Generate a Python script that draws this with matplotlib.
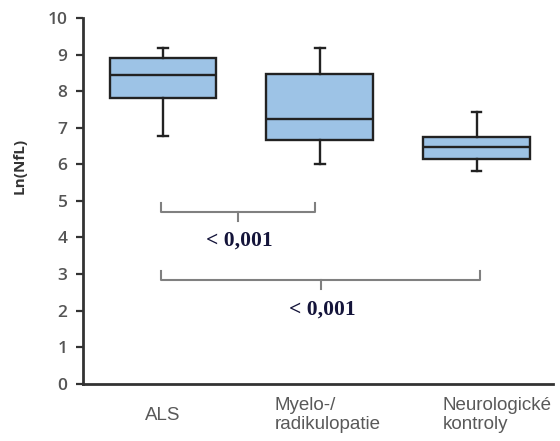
import matplotlib
matplotlib.use("Agg")
import matplotlib.pyplot as plt
from matplotlib.transforms import blended_transform_factory, offset_copy

# skupiny a hodnoty boxplotu (Ln NfL)
groups = ["ALS", "Myelo-/\nradikulopatie", "Neurologické\nkontroly"]
q1 = [7.82, 6.67, 6.14]
median = [8.45, 7.25, 6.48]
q3 = [8.92, 8.48, 6.75]
whisker_low = [6.78, 6.02, 5.82]
whisker_high = [9.19, 9.19, 7.42]

# porovnani skupin (zavorky s p-hodnotou)
bracket_from = [1, 1]
bracket_to = [2, 3]
p_labels = ["< 0,001", "< 0,001"]

positions = [1, 2, 3]
stats = []
for i, name in enumerate(groups):
    stats.append(dict(label=name, q1=q1[i], med=median[i], q3=q3[i],
                      whislo=whisker_low[i], whishi=whisker_high[i], fliers=[]))

fig = plt.figure(figsize=(5.6, 4.41), dpi=100)
ax = fig.add_axes([0.148, 0.130, 0.839, 0.829])

edge = "#222222"
ax.bxp(stats, positions=positions, widths=0.68, patch_artist=True,
       showfliers=False, capwidths=0.06,
       boxprops=dict(facecolor="#9dc3e6", edgecolor=edge, linewidth=1.7),
       medianprops=dict(color=edge, linewidth=1.7),
       whiskerprops=dict(color=edge, linewidth=1.7),
       capprops=dict(color=edge, linewidth=1.7))

ax.set_xlim(0.49, 3.484)
ax.set_ylim(0, 10)
ax.set_yticks(range(0, 11))
ax.set_xticks([])

for s in ["top", "right"]:
    ax.spines[s].set_visible(False)
for s in ["left", "bottom"]:
    ax.spines[s].set_color("#333333")
    ax.spines[s].set_linewidth(2.0)

ax.tick_params(axis="y", length=5, width=1.6, color="#333333", pad=6,
               labelsize=12.5, labelcolor="#555555")
for lab in ax.get_yticklabels():
    lab.set_family("Open Sans")
    lab.set_fontweight("semibold")

ax.set_ylabel("Ln(NfL)", family="Open Sans", fontweight="bold", fontsize=11,
              color="#333333")
ax.yaxis.set_label_coords(-0.12, 0.595)

# popisky skupin pod osou x
trans = blended_transform_factory(ax.transData, ax.transAxes)
shift = [0, 8, 20]
for x, name, dx in zip(positions, groups, shift):
    t = offset_copy(trans, fig=fig, x=dx * 0.72, y=0, units="points")
    ax.text(x, -0.086, name, transform=t, ha="center", va="center",
            multialignment="left", family="Liberation Sans", fontsize=13.5,
            color="#595959", linespacing=1.1, clip_on=False)

# zavorky s p-hodnotami
levels = [4.70, 2.83]
for a, b, y, txt in zip(bracket_from, bracket_to, levels, p_labels):
    x0, x1 = a - 0.01, b + 0.02 if b == 3 else b - 0.03
    xm = (x0 + x1) / 2
    ax.plot([x0, x0, x1, x1], [y + 0.25, y, y, y + 0.25], color="#808080",
            lw=1.5, solid_joinstyle="round")
    ax.plot([xm, xm], [y, y - 0.25], color="#808080", lw=1.5)
    ax.text(xm + 0.01, y - 0.8, txt, ha="center", va="center",
            family="Liberation Serif", fontweight="bold", fontsize=15.5,
            color="#14143a")

fig.savefig("out.png", dpi=100)
